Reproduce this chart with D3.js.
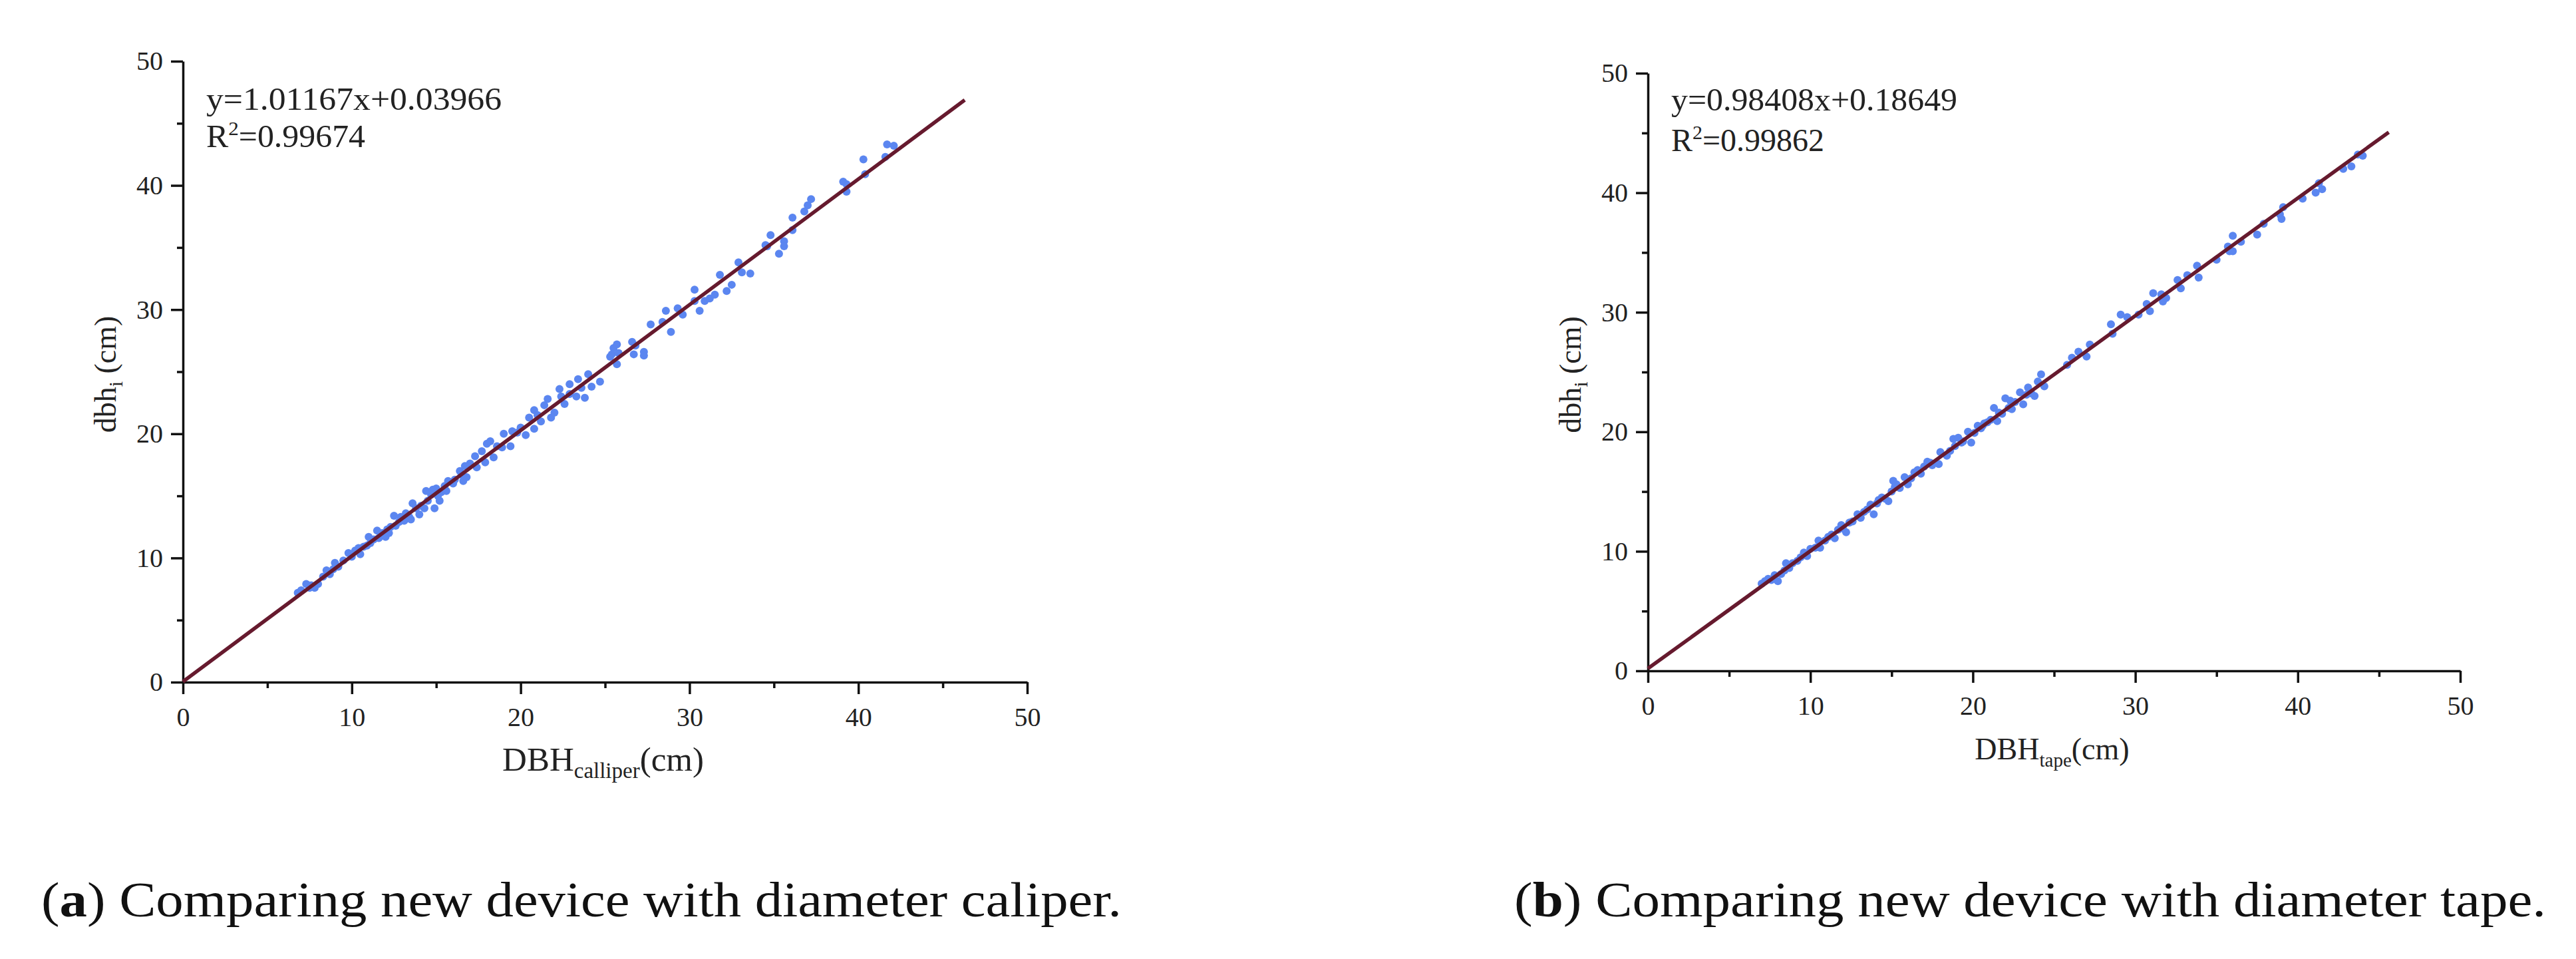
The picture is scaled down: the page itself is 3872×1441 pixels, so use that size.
<!DOCTYPE html>
<html><head><meta charset="utf-8">
<script src="https://cdn.jsdelivr.net/npm/d3@7"></script>
<style>body{margin:0;background:#fff}svg{display:block}</style>
</head><body>
<svg id="c" width="3872" height="1441"></svg>
<script>
// ---------- data ----------
const xTicks = [0, 10, 20, 30, 40, 50];
const yTicks = [0, 10, 20, 30, 40, 50];
const minorTicks = [5, 15, 25, 35, 45];

// panel (a): DBH calliper vs dbh_i
const calliperPts = [
[6.8,7.2],[7.0,7.4],[7.3,7.9],[7.5,7.6],[7.8,7.6],[8.0,7.9],[8.3,8.5],[8.5,9.0],[8.7,8.7],[9.0,9.6],[9.2,9.3],[9.5,9.8],[9.8,10.4],[10.0,10.1],[10.2,10.6],[10.4,10.8],[10.5,10.3],[10.7,10.9],[11.0,11.7],[11.1,11.2],[11.3,11.5],[11.5,12.2],[11.6,11.6],[11.8,12.0],[12.0,11.7],[12.1,12.3],[12.3,12.5],[12.5,13.4],[12.6,12.6],[12.8,12.9],[13.1,13.0],[13.2,13.6],[13.4,13.3],[13.6,14.4],[13.8,14.0],[14.0,13.5],[14.1,14.2],[14.4,15.4],[14.5,14.6],[14.7,15.1],[14.9,14.0],[15.0,15.6],[15.2,14.6],[15.3,15.3],[15.5,15.8],[15.6,15.4],[15.7,16.2],[16.0,16.0],
[7.6,7.8],[8.9,9.1],[10.9,11.0],[12.2,12.0],[12.9,13.3],[13.5,13.1],[14.3,14.0],[14.8,15.5],[15.1,15.0],
[16.1,16.3],[16.4,17.0],[16.5,16.7],[16.7,17.4],[16.8,16.5],[16.6,16.2],[17.3,18.2],[17.4,17.3],[17.7,18.6],[17.9,17.7],[18.0,19.2],[18.2,19.4],[18.4,18.1],[18.6,19.0],[18.9,18.9],[19.0,20.0],[19.4,19.0],[19.5,20.2],[20.0,20.5],[20.3,19.9],[20.5,21.3],[20.8,21.9],[20.8,20.4],[21.2,21.0],[21.4,22.3],[21.6,22.8],[21.8,21.3],[22.0,21.7],[22.3,23.6],[22.6,22.4],[22.9,24.0],[22.9,23.2],[23.3,23.0],[23.4,24.4],[23.6,23.7],[23.8,22.9],[24.0,24.8],[24.2,23.8],[24.7,24.2],
[17.0,17.6],[19.8,20.1],[21.0,21.5],[22.4,23.0],
[25.3,26.2],[25.5,26.9],[25.7,27.2],[25.4,26.4],[25.8,26.5],[25.7,25.6],[26.6,27.4],[26.8,27.1],[26.7,26.4],[27.3,26.6],[27.3,26.3],[27.7,28.8],[28.4,29.0],[28.6,29.9],[28.9,28.2],[29.3,30.1],[29.6,29.6],[30.3,31.6],[30.3,30.7],[30.6,29.9],[30.9,30.7],[31.2,30.9],[31.5,31.2],[31.8,32.8],[32.2,31.5],[32.5,32.0],[32.9,33.8],[33.1,33.0],[33.6,32.9],
[34.5,35.2],[34.6,35.1],[34.8,36.0],[35.3,34.5],[35.6,35.5],[35.6,35.1],[36.1,37.4],[36.1,36.4],[36.8,37.9],[37.0,38.4],[37.2,38.9],[39.1,40.3],[39.3,40.1],[39.3,39.5],[40.3,42.1],[40.4,40.9],[41.6,42.3],[41.7,43.3],[42.1,43.2]
];
const calliperFit = [[0, 0.04], [46.3, 46.88]];

// panel (b): DBH tape vs dbh_i
const tapePts = [
[7.0,7.3],[7.2,7.5],[7.4,7.7],[7.6,7.6],[7.8,8.0],[8.0,7.5],[8.2,8.1],[8.5,9.0],[8.7,8.6],[8.9,9.0],[9.2,9.2],[9.6,9.9],[9.8,9.6],[10.0,10.2],[10.3,10.3],[10.5,10.9],[10.6,10.3],[10.9,10.9],[11.3,11.4],[11.5,11.1],[11.7,11.8],[11.9,12.2],[12.2,11.6],[12.4,12.4],[12.6,12.5],[12.9,13.1],[13.1,12.8],[13.3,13.3],[13.5,13.5],[13.7,13.9],[13.9,13.1],[14.1,14.0],[14.4,14.5],[14.6,14.4],[14.8,14.2],[15.0,15.0],[15.1,15.9],[15.2,15.4],[15.5,15.3],[15.8,16.2],[16.0,15.6],[16.4,16.6],[16.6,16.8],[16.8,16.5],[17.0,17.1],[17.2,17.5],[17.5,17.2],[17.9,17.3],[18.0,18.3],[18.4,18.0],[18.6,18.4],[18.8,19.4],[18.9,18.8],[19.1,19.5],[19.4,19.2],[19.7,20.0],[19.9,19.1],[20.1,19.9],[20.3,20.5],[20.5,20.3],[20.7,20.7],[20.9,20.8],[21.1,21.0],[21.3,22.0],[21.5,20.9],[21.6,21.6],[21.8,21.5],[22.0,22.8],[22.3,22.6],[22.4,21.9],[22.6,22.5],[22.9,23.3],[23.1,22.3],[23.4,23.7],[23.6,23.2],[23.8,23.0],[24.0,24.2],[24.2,24.8],[24.4,23.8],
[8.4,8.4],[9.4,9.5],[11.1,11.2],[12.0,11.9],[13.0,12.9],[14.2,14.3],[15.3,15.6],[16.2,16.1],[17.4,17.4],[19.3,19.1],[20.6,20.5],[22.2,22.0],[23.3,23.1],
[25.8,25.6],[26.1,26.2],[26.5,26.7],[27.0,26.3],[27.2,27.3],[28.5,29.0],[28.6,28.2],[29.1,29.8],[29.5,29.6],[30.2,29.8],[30.7,30.7],[30.9,30.1],[31.1,31.6],[31.6,31.5],[31.7,30.9],[31.9,31.2],[32.6,32.7],[32.8,32.0],[33.2,33.1],[33.8,33.9],[33.9,32.9],[35.0,34.4],[35.7,35.5],[35.8,35.1],[36.0,36.4],[36.0,35.1],[36.5,35.9],[37.5,36.5],[37.9,37.4],[38.9,38.2],[39.0,37.8],[39.1,38.8],[40.3,39.5],[41.1,40.0],[41.3,40.8],[41.5,40.3],[42.8,42.0],[43.3,42.2],[43.7,43.2],[44.0,43.1]
];
const tapeFit = [[0, 0.19], [45.6, 45.06]];

const equations = ["y=1.01167x+0.03966", "y=0.98408x+0.18649"];
const r2Values = ["=0.99674", "=0.99862"];
const xSubscripts = ["calliper", "tape"];
const captionLetters = ["a", "b"];
const captionTexts = [" Comparing new device with diameter caliper.", " Comparing new device with diameter tape."];

// ---------- layout ----------
const panels = [
  {x0: 275, x1: 1544, yt: 92, yb: 1025, pts: calliperPts, fit: calliperFit, eq: equations[0], r2: r2Values[0], sub: xSubscripts[0],
   eqW: 444, r2W: 239, eqY: [165, 221], xtFs: 51, capX: 62, capW: 1624, letter: captionLetters[0], cap: captionTexts[0]},
  {x0: 2477, x1: 3698, yt: 110, yb: 1008, pts: tapePts, fit: tapeFit, eq: equations[1], r2: r2Values[1], sub: xSubscripts[1],
   eqW: 430, r2W: 230, eqY: [166, 227], xtFs: 46, capX: 2276, capW: 1551, letter: captionLetters[1], cap: captionTexts[1]}
];

const svg = d3.select("#c");
const SERIF = "'Liberation Serif','Times New Roman',serif";
const dotColor = "#5b86f0";
const lineColor = "#661a2e";

panels.forEach(p => {
  const x = d3.scaleLinear().domain([0, 50]).range([p.x0, p.x1]);
  const y = d3.scaleLinear().domain([0, 50]).range([p.yb, p.yt]);
  const g = svg.append("g");

  // minor ticks
  g.append("g").attr("transform", `translate(0,${p.yb})`)
    .call(d3.axisBottom(x).tickValues(minorTicks).tickSize(9).tickSizeOuter(0).tickFormat(""))
    .call(s => s.select(".domain").remove());
  g.append("g").attr("transform", `translate(${p.x0},0)`)
    .call(d3.axisLeft(y).tickValues(minorTicks).tickSize(9).tickSizeOuter(0).tickFormat(""))
    .call(s => s.select(".domain").remove());

  const xa = g.append("g").attr("transform", `translate(0,${p.yb})`)
    .call(d3.axisBottom(x).tickValues(xTicks).tickSize(18).tickSizeOuter(0).tickPadding(20));
  const ya = g.append("g").attr("transform", `translate(${p.x0},0)`)
    .call(d3.axisLeft(y).tickValues(yTicks).tickSize(18).tickSizeOuter(0).tickPadding(12));
  [xa, ya].forEach(a => {
    a.attr("font-family", SERIF).attr("font-size", 40);
    a.selectAll("text").attr("fill", "#222");
  });
  g.selectAll(".domain").attr("stroke", "#111").attr("stroke-width", 3.5);
  g.selectAll(".tick line").attr("stroke", "#111").attr("stroke-width", 3.5);

  // points
  g.append("g").selectAll("circle").data(p.pts).join("circle")
    .attr("cx", d => x(d[0])).attr("cy", d => y(d[1])).attr("r", 6)
    .attr("fill", dotColor);

  // fit line
  g.append("path").datum(p.fit)
    .attr("d", d3.line().x(d => x(d[0])).y(d => y(d[1])))
    .attr("stroke", lineColor).attr("stroke-width", 5.5).attr("fill", "none");

  // equation annotation
  g.append("text").attr("x", p.x0 + 35).attr("y", p.eqY[0])
    .attr("font-family", SERIF).attr("font-size", 48).attr("fill", "#222")
    .attr("textLength", p.eqW).attr("lengthAdjust", "spacingAndGlyphs")
    .text(p.eq);
  const r2t = g.append("text").attr("x", p.x0 + 35).attr("y", p.eqY[1])
    .attr("font-family", SERIF).attr("font-size", 48).attr("fill", "#222")
    .attr("textLength", p.r2W).attr("lengthAdjust", "spacingAndGlyphs");
  r2t.append("tspan").text("R");
  r2t.append("tspan").attr("font-size", 30).attr("dy", -18).text("2");
  r2t.append("tspan").attr("dy", 18).text(p.r2);

  // x axis title
  const xt = g.append("text").attr("x", (p.x0 + p.x1) / 2 - 3).attr("y", p.yb + 133)
    .attr("text-anchor", "middle").attr("font-family", SERIF).attr("font-size", p.xtFs).attr("fill", "#222");
  xt.append("tspan").text("DBH");
  xt.append("tspan").attr("font-size", Math.round(p.xtFs * 0.64)).attr("dy", 11).text(p.sub);
  xt.append("tspan").attr("dy", -11).text("(cm)");

  // y axis title
  const cy = (p.yt + p.yb) / 2 + 4, cx = p.x0 - 101;
  const yt = g.append("text").attr("transform", `translate(${cx},${cy}) rotate(-90)`)
    .attr("text-anchor", "middle").attr("font-family", SERIF).attr("font-size", 46).attr("fill", "#222");
  yt.append("tspan").text("dbh");
  yt.append("tspan").attr("font-size", 30).attr("dy", 10).text("i");
  yt.append("tspan").attr("dy", -10).text(" (cm)");

  // caption
  const ct = svg.append("text").attr("x", p.capX).attr("y", 1377)
    .attr("font-family", SERIF).attr("font-size", 74).attr("fill", "#111")
    .attr("textLength", p.capW).attr("lengthAdjust", "spacingAndGlyphs");
  ct.append("tspan").text("(");
  ct.append("tspan").attr("font-weight", "bold").text(p.letter);
  ct.append("tspan").text(")" + p.cap);
});
</script>
</body></html>
